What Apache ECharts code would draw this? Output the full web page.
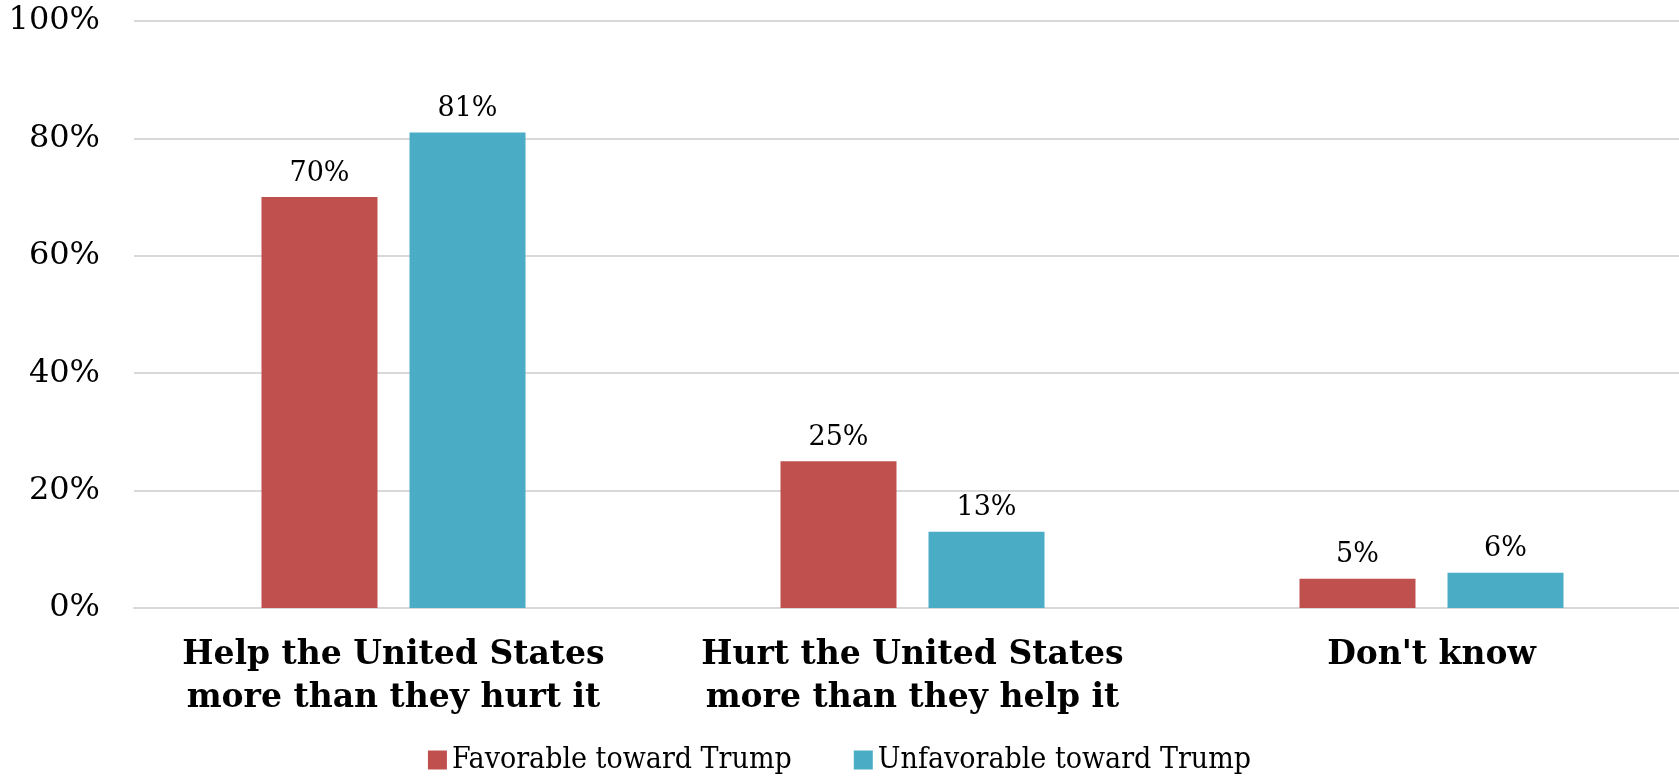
<!DOCTYPE html>
<html><head><meta charset="utf-8">
<script src="https://cdn.jsdelivr.net/npm/echarts@6/dist/echarts.min.js"></script>
<style>html,body{margin:0;padding:0;background:#fff}#c{width:1679px;height:776px}</style>
</head><body><div id="c"></div>
<script>
const categories = ["Help the United States\nmore than they hurt it", "Hurt the United States\nmore than they help it", "Don't know"];
const favorable = [70, 25, 5];
const unfavorable = [81, 13, 6];
const seriesNames = ["Favorable toward Trump", "Unfavorable toward Trump"];
const yTicks = [0, 20, 40, 60, 80, 100];

const chart = echarts.init(document.getElementById('c'));
const serif = "'DejaVu Serif', serif";
chart.setOption({
  animation: false,
  grid: { left: 134, width: 1557, top: 21, bottom: 168, outerBoundsMode: 'none', containLabel: false },
  legend: {
    top: 740, left: 'center', itemWidth: 19, itemHeight: 19, itemGap: 62, icon: 'rect',
    textStyle: { fontFamily: "'DejaVu Serif Condensed', 'Liberation Serif', serif", fontSize: 30, color: '#000', padding: [0, 0, 0, 0] },
    data: seriesNames
  },
  xAxis: {
    type: 'category', data: categories,
    axisLine: { lineStyle: { color: '#d9d9d9', width: 2 } },
    axisTick: { show: false },
    axisLabel: { interval: 0, fontFamily: serif, fontWeight: 'bold', fontSize: 33, color: '#000', lineHeight: 43, margin: 26 }
  },
  yAxis: {
    type: 'value', min: yTicks[0], max: yTicks[yTicks.length - 1], interval: 20,
    axisLine: { show: false }, axisTick: { show: false },
    splitLine: { lineStyle: { color: '#d9d9d9', width: 2 } },
    axisLabel: { formatter: '{value}%', fontFamily: serif, fontSize: 32, color: '#000', margin: 34 }
  },
  series: [
    { name: seriesNames[0], type: 'bar', data: favorable, barWidth: 116, barGap: '27.6%',
      itemStyle: { color: '#C0504D' },
      label: { show: true, position: 'top', formatter: '{c}%', fontFamily: serif, fontSize: 27, color: '#000', distance: 10 } },
    { name: seriesNames[1], type: 'bar', data: unfavorable, barWidth: 116, barGap: '27.6%',
      itemStyle: { color: '#4BACC6' },
      label: { show: true, position: 'top', formatter: '{c}%', fontFamily: serif, fontSize: 27, color: '#000', distance: 10 } }
  ]
});
</script></body></html>
